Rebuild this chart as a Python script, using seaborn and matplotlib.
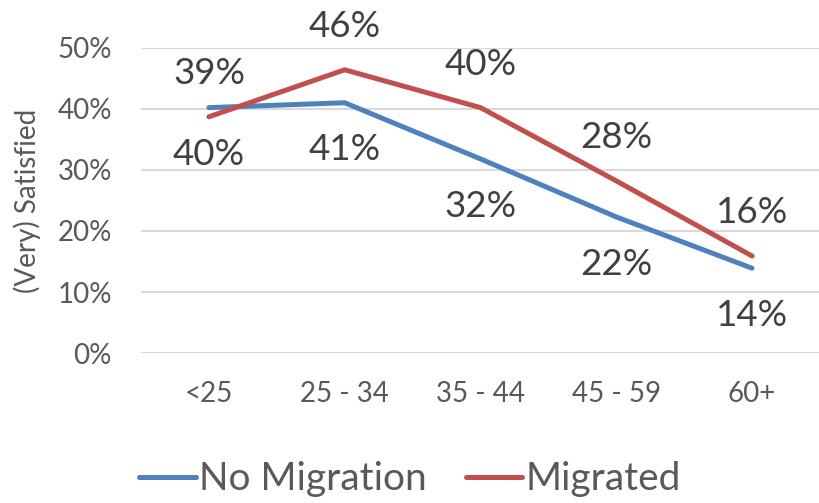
import matplotlib
matplotlib.use("Agg")
import matplotlib.pyplot as plt
import seaborn as sns
import pandas as pd
from matplotlib.ticker import PercentFormatter

# values (percent)
age_groups = ["<25", "25 - 34", "35 - 44", "45 - 59", "60+"]
no_migration = [40.2, 41.0, 31.8, 22.3, 13.9]
migrated = [38.7, 46.4, 40.2, 28.2, 15.9]
series_names = ["No Migration", "Migrated"]

BLUE = "#4F81BD"
RED = "#C0504D"

df = pd.DataFrame({
    "age": age_groups * 2,
    "share": no_migration + migrated,
    "group": [series_names[0]] * len(age_groups) + [series_names[1]] * len(age_groups),
})

sns.set_theme(style="white")
plt.rcParams["font.family"] = ["Lato", "DejaVu Sans"]

fig = plt.figure(figsize=(8.2, 5.03), dpi=100)
ax = fig.add_axes([0.172, 0.298, 0.828, 0.607])

sns.lineplot(data=df, x="age", y="share", hue="group", sort=False,
             palette={series_names[0]: BLUE, series_names[1]: RED},
             linewidth=3.6, ax=ax, legend=False)

ax.set_ylim(0, 50)
ax.set_xlim(-0.5, len(age_groups) - 0.5)
ax.set_yticks(range(0, 51, 10))
ax.yaxis.set_major_formatter(PercentFormatter(decimals=0))
ax.grid(axis="y", color="#D9D9D9", linewidth=1.5)
ax.set_axisbelow(True)
for s in ax.spines.values():
    s.set_visible(False)
ax.tick_params(axis="both", length=0, labelsize=20, labelcolor="#595959")
ax.tick_params(axis="y", pad=21)
ax.tick_params(axis="x", pad=20)
ax.set_xlabel("")
ax.set_ylabel("(Very) Satisfied", fontsize=20, color="#595959")
ax.yaxis.set_label_coords(-0.148, 0.5)

# data labels: blue below, red above
for i, v in enumerate(no_migration):
    ax.annotate(f"{round(v)}%", (i, v), xytext=(0, -34), textcoords="offset points",
                ha="center", va="center", fontsize=26.5, color="#404040")
for i, v in enumerate(migrated):
    ax.annotate(f"{round(v)}%", (i, v), xytext=(0, 31), textcoords="offset points",
                ha="center", va="center", fontsize=26.5, color="#404040", clip_on=False)

handles = [plt.Line2D([], [], color=BLUE, linewidth=3.6),
           plt.Line2D([], [], color=RED, linewidth=3.6)]
fig.legend(handles, series_names, loc="center", bbox_to_anchor=(0.5, 0.047), ncol=2,
           frameon=False, fontsize=28, handlelength=1.45, handletextpad=0.08,
           columnspacing=1.0, labelcolor="#595959")

fig.savefig("out.png", dpi=100)
